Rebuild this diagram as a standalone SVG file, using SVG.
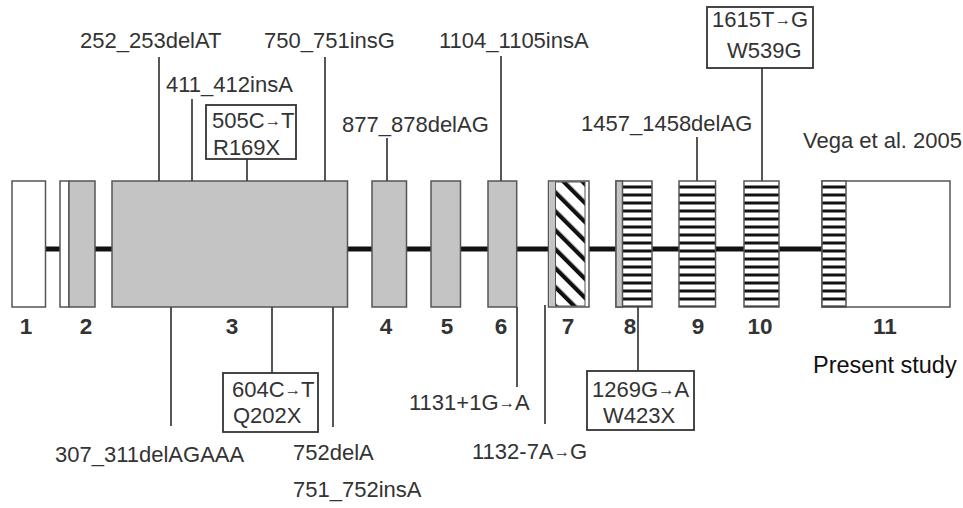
<svg xmlns="http://www.w3.org/2000/svg" width="963" height="508" viewBox="0 0 963 508">
<style>
text{font-family:"Liberation Sans",Arial,sans-serif;font-size:22px;fill:#333}
.num{font-weight:bold;font-size:22.5px;text-anchor:middle}
.ex{stroke:#555;stroke-width:1.5}
.g{fill:#c4c4c4}
.w{fill:#fff}
.box{fill:#fff;stroke:#333;stroke-width:1.8}
.ln{stroke:#444;stroke-width:1.8;fill:none}
.ar{font-size:16.5px;font-weight:bold}
</style>
<defs>
<pattern id="stripes" patternUnits="userSpaceOnUse" x="0" y="181" width="8" height="8">
<rect width="8" height="8" fill="#fff"/>
<rect y="4.5" width="8" height="3" fill="#111"/>
</pattern>
<pattern id="hatch" patternUnits="userSpaceOnUse" width="13.4" height="13.4" patternTransform="rotate(-45)">
<rect width="13.4" height="13.4" fill="#fff"/>
<rect width="4.2" height="13.4" fill="#111"/>
</pattern>
</defs>
<line x1="45" y1="249" x2="822" y2="249" stroke="#111" stroke-width="5"/>
<g id="exon1"><rect class="ex w" x="12" y="181" width="33.5" height="126"/><text class="num" x="26" y="334">1</text></g>
<g id="exon2"><rect class="ex w" x="60" y="181" width="9" height="126"/><rect class="ex g" x="69" y="181" width="26" height="126"/><text class="num" x="86" y="334">2</text></g>
<g id="exon3"><rect class="ex g" x="112" y="181" width="235.5" height="126"/><text class="num" x="232" y="334">3</text></g>
<g id="exon4"><rect class="ex g" x="372" y="181" width="34.5" height="126"/><text class="num" x="386" y="334">4</text></g>
<g id="exon5"><rect class="ex g" x="431" y="181" width="29.5" height="126"/><text class="num" x="447" y="334">5</text></g>
<g id="exon6"><rect class="ex g" x="488" y="181" width="28.7" height="126"/><text class="num" x="501" y="334">6</text></g>
<g id="exon7"><rect class="ex w" x="548.5" y="181" width="40.5" height="126"/><rect class="g" x="549.5" y="182" width="6" height="124"/><rect x="555.5" y="182" width="29.5" height="124" fill="url(#hatch)" stroke="#555" stroke-width="1"/><text class="num" x="568" y="334">7</text></g>
<g id="exon8"><rect class="ex" x="616" y="181" width="36" height="126" fill="url(#stripes)"/><rect class="ex g" x="616" y="181" width="6.5" height="126"/><text class="num" x="630" y="334">8</text></g>
<g id="exon9"><rect class="ex" x="679" y="181" width="36.5" height="126" fill="url(#stripes)"/><text class="num" x="698" y="334">9</text></g>
<g id="exon10"><rect class="ex" x="744" y="181" width="35" height="126" fill="url(#stripes)"/><text class="num" x="760" y="334">10</text></g>
<g id="exon11"><rect class="ex w" x="822" y="181" width="128" height="126"/><rect class="ex" x="822" y="181" width="24" height="126" fill="url(#stripes)"/><text class="num" x="885" y="334">11</text></g>
<g id="connectors">
<line class="ln" x1="159" y1="57" x2="159" y2="181"/>
<line class="ln" x1="192" y1="99" x2="192" y2="181"/>
<line class="ln" x1="247" y1="159" x2="247" y2="181"/>
<line class="ln" x1="325" y1="57" x2="325" y2="181"/>
<line class="ln" x1="387" y1="138" x2="387" y2="181"/>
<line class="ln" x1="501" y1="56" x2="501" y2="181"/>
<line class="ln" x1="697" y1="137" x2="697" y2="181"/>
<line class="ln" x1="762" y1="68" x2="762" y2="181"/>
<line class="ln" x1="171" y1="307" x2="171" y2="426"/>
<line class="ln" x1="272" y1="307" x2="272" y2="373"/>
<line class="ln" x1="333" y1="307" x2="333" y2="427"/>
<line class="ln" x1="517" y1="307" x2="517" y2="387"/>
<line class="ln" x1="545" y1="305" x2="545" y2="424"/>
<line class="ln" x1="638" y1="307" x2="638" y2="371"/>
</g>
<g id="m252"><text x="80" y="48">252_253delAT</text></g>
<g id="m750"><text x="264" y="48">750_751insG</text></g>
<g id="m411"><text x="166" y="92">411_412insA</text></g>
<g id="m505"><rect class="box" x="206" y="105" width="90" height="54"/><text x="212" y="128">505C<tspan class="ar" dy="-2">→</tspan><tspan dy="2">T</tspan></text><text x="213" y="155">R169X</text></g>
<g id="m877"><text x="342" y="132">877_878delAG</text></g>
<g id="m1104"><text x="439" y="48">1104_1105insA</text></g>
<g id="m1457"><text x="581" y="131">1457_1458delAG</text></g>
<g id="m1615"><rect class="box" x="707" y="7" width="106" height="61"/><text x="712" y="27">1615T<tspan class="ar" dy="-2">→</tspan><tspan dy="2">G</tspan></text><text x="727" y="58">W539G</text></g>
<g id="vega"><text x="803" y="148">Vega et al. 2005</text></g>
<g id="m307"><text x="55" y="462">307_311delAGAAA</text></g>
<g id="m604"><rect class="box" x="223" y="373" width="95" height="59"/><text x="232" y="397">604C<tspan class="ar" dy="-2">→</tspan><tspan dy="2">T</tspan></text><text x="233" y="423">Q202X</text></g>
<g id="m752"><text x="293" y="460">752delA</text></g>
<g id="m751"><text x="293" y="497">751_752insA</text></g>
<g id="m1131"><text x="409" y="410">1131+1G<tspan class="ar" dy="-2">→</tspan><tspan dy="2">A</tspan></text></g>
<g id="m1132"><text x="472" y="459">1132-7A<tspan class="ar" dy="-2">→</tspan><tspan dy="2">G</tspan></text></g>
<g id="m1269"><rect class="box" x="587" y="371" width="107" height="59"/><text x="592" y="397">1269G<tspan class="ar" dy="-2">→</tspan><tspan dy="2">A</tspan></text><text x="603" y="423">W423X</text></g>
<g id="present"><text x="813" y="373" style="font-size:23.5px;fill:#111">Present study</text></g>
</svg>
